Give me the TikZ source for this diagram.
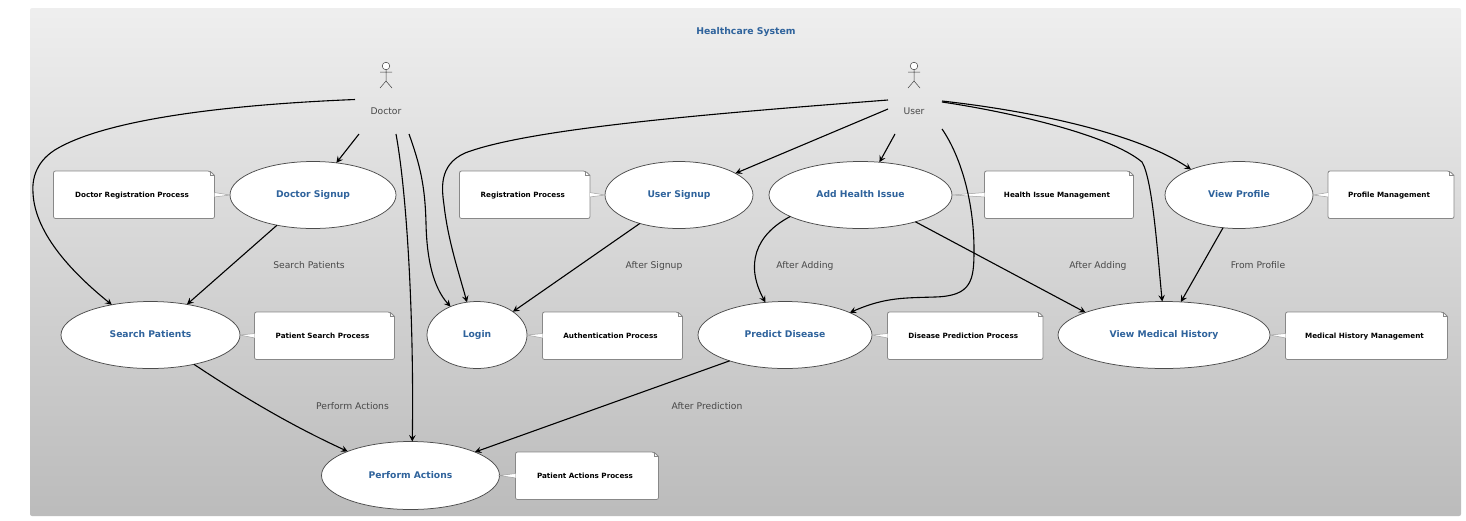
\documentclass[tikz,border=0pt]{standalone}
\usepackage{fontspec}
\setmainfont{DejaVu Sans}
\usetikzlibrary{shapes.geometric,arrows.meta,calc}
\definecolor{ucblue}{HTML}{2F639C}
\definecolor{lblgray}{HTML}{484848}
\definecolor{notegray}{HTML}{888888}
\definecolor{linkgray}{HTML}{A0A0A0}
\tikzset{
  usecase/.style={ellipse,draw=black!70,line width=0.75pt,fill=white,inner sep=0pt,outer sep=0pt,
    text height=6.5pt,text depth=1.5pt,
    font=\fontsize{9.2}{11}\selectfont\bfseries,text=ucblue},
  notetext/.style={inner sep=0pt,outer sep=0pt,text height=6pt,text depth=1pt,
    font=\fontsize{7.2}{9}\selectfont\bfseries,text=black},
  notebody/.style={fill=white,draw=notegray,line width=0.8pt},
  edgelabel/.style={inner sep=0pt,text height=7pt,text depth=0pt,font=\fontsize{9.2}{10}\selectfont,text=lblgray},
  rel/.style={-{Stealth[length=6.5pt,width=6.5pt,inset=2.5pt]},line width=1.1pt,black},
  actorbox/.style={draw=none,inner sep=0pt,outer sep=0pt},
  stick/.style={draw=black!75,line width=0.5pt},
}
% \notebox{name}{x1}{y1}{x2}{y2}{text}
\newcommand{\notebox}[6]{%
  \draw[notebody,rounded corners=2pt] (#2,#5) -- (#2,#3) -- ({#4-4.5},#3) [sharp corners] -- (#4,{#3+4.5}) [rounded corners=2pt] -- (#4,#5) -- cycle;
  \draw[draw=notegray,line width=0.5pt] ({#4-4.5},#3) -- ({#4-4.5},{#3+4.5}) -- (#4,{#3+4.5});
  \node[notetext,minimum width={(#4-#2)*1pt},minimum height={(#5-#3)*1pt}] (#1) at ({(#2+#4)/2},{(#3+#5)/2}) {\hspace*{-4pt}#6};
}
% \notelink{ellipse anchor}{note anchor}
\newcommand{\notelink}[2]{%
  \fill[white] (#1) -- ($(#2)+(0,-2.2)$) -- ($(#2)+(0,2.2)$) -- cycle;
  \draw[linkgray,line width=0.5pt] ($(#2)+(0,-2.2)$) -- (#1) -- ($(#2)+(0,2.2)$);
}
\newcommand{\stickman}[1]{%
  \draw[stick,fill=white] (#1,66) circle (3.8);
  \draw[stick] (#1,69.8) -- (#1,81) (#1-6,72) -- (#1+6,72) (#1-6,88) -- (#1,81) -- (#1+6,88);
}
\begin{document}
\begin{tikzpicture}[x=1pt,y=-1pt]
\useasboundingbox (0,0) rectangle (1466,520);
\shade[top color=black!6.5,bottom color=black!26.5,rounded corners=2pt] (30,8) rectangle (1461,516);
\node[inner sep=0pt,text height=7pt,text depth=0pt,font=\fontsize{9.3}{11}\selectfont\bfseries,text=ucblue] (title) at (746,31) {Healthcare System};

% actors
\stickman{386}
\stickman{914}
\node[actorbox,minimum width=61pt,minimum height=76pt] (doctor) at (385.5,96) {};
\node[actorbox,minimum width=54pt,minimum height=76pt] (user) at (915,96) {};
\node[edgelabel] (doctorlbl) at (386,111) {Doctor};
\node[edgelabel] (userlbl) at (914,111) {User};
\coordinate (d1) at (355,99.5);
\coordinate (d2) at (359,134);
\coordinate (d3) at (396,134);
\coordinate (d4) at (409,134);
\coordinate (u1) at (888,100);
\coordinate (u2) at (888,109);
\coordinate (u3) at (895,134);
\coordinate (u4) at (942,129);
\coordinate (u5) at (942,102);
\coordinate (u6) at (942,101);

% use cases
\node[usecase,minimum width=166pt,minimum height=67pt] (dsignup) at (313,195) {Doctor Signup};
\node[usecase,minimum width=148pt,minimum height=67pt] (usignup) at (679,195) {User Signup};
\node[usecase,minimum width=183pt,minimum height=67pt] (health) at (860.5,195) {Add Health Issue};
\node[usecase,minimum width=148pt,minimum height=67pt] (profile) at (1239,195) {View Profile};
\node[usecase,minimum width=179pt,minimum height=67pt] (search) at (150.5,335) {Search Patients};
\node[usecase,minimum width=100pt,minimum height=67pt] (login) at (477,335) {Login};
\node[usecase,minimum width=174pt,minimum height=67pt] (predict) at (785,335) {Predict Disease};
\node[usecase,minimum width=212pt,minimum height=67pt] (history) at (1164,335) {View Medical History};
\node[usecase,minimum width=178pt,minimum height=68pt] (perform) at (410.5,475.5) {Perform Actions};

% notes
\notebox{ndsignup}{53.5}{171}{214.5}{218.5}{Doctor Registration Process}
\notebox{nusignup}{459.5}{171}{590}{218.5}{Registration Process}
\notebox{nhealth}{984.5}{171}{1133.5}{218.5}{Health Issue Management}
\notebox{nprofile}{1328}{171}{1454}{218.5}{Profile Management}
\notebox{nsearch}{254.5}{312}{394.5}{359.5}{Patient Search Process}
\notebox{nlogin}{542.5}{312}{682.5}{359.5}{Authentication Process}
\notebox{npredict}{887.5}{312}{1043}{359.5}{Disease Prediction Process}
\notebox{nhistory}{1285.5}{312}{1447.5}{359.5}{Medical History Management}
\notebox{nperform}{515.5}{452}{658.5}{499.5}{Patient Actions Process}

\notelink{dsignup.west}{ndsignup.east}
\notelink{usignup.west}{nusignup.east}
\notelink{health.east}{nhealth.west}
\notelink{profile.east}{nprofile.west}
\notelink{search.east}{nsearch.west}
\notelink{login.east}{nlogin.west}
\notelink{predict.east}{npredict.west}
\notelink{history.east}{nhistory.west}
\notelink{perform.east}{nperform.west}

% connectors
\draw[rel] (d1) .. controls (220,105) and (110,120) .. (60,147) .. controls (35,160) and (32,180) .. (33,193) .. controls (35,235) and (75,275) .. (search.142);
\draw[rel] (d2) -- (dsignup.54);
\draw[rel] (d3) .. controls (408,200) and (414,330) .. (perform.87.4);
\draw[rel] (d4) .. controls (420,165) and (425,185) .. (426,223) .. controls (427,275) and (440,295) .. (login.133);
\draw[rel] (u1) .. controls (720,113) and (530,128) .. (465,153) .. controls (438,165) and (442,190) .. (444,205) .. controls (448,240) and (458,270) .. (login.107);
\draw[rel] (u2) -- (usignup.21.25);
\draw[rel] (u3) -- (health.60);
\draw[rel] (u4) .. controls (960,155) and (974,200) .. (974,250) .. controls (974,280) and (972,296) .. (935,297) .. controls (905,298) and (885,297) .. (predict.19.2);
\draw[rel] (u5) .. controls (1010,112) and (1110,135) .. (1142,162) .. controls (1153,180) and (1158,260) .. (history.93.5);
\draw[rel] (u6) .. controls (1040,112) and (1140,135) .. (profile.152.4);
\draw[rel] (dsignup.220.6) -- (search.40.6);
\draw[rel] (search.-34.6) .. controls (240,395) and (290,425) .. (perform.159);
\draw[rel] (usignup.216.6) -- (login.33);
\draw[rel] (health.197) .. controls (755,235) and (745,265) .. (predict.121);
\draw[rel] (health.-26.6) -- (history.164.8);
\draw[rel] (profile.244) -- (history.63.4);
\draw[rel] (predict.205.6) -- (perform.20.6);

% labels
\node[edgelabel] (l1) at (309,265) {Search Patients};
\node[edgelabel] (l2) at (654,265) {After Signup};
\node[edgelabel] (l3) at (805,265) {After Adding};
\node[edgelabel] (l4) at (1098,265) {After Adding};
\node[edgelabel] (l5) at (1258,265) {From Profile};
\node[edgelabel] (l6) at (352.5,405.5) {Perform Actions};
\node[edgelabel] (l7) at (707,405.5) {After Prediction};
\end{tikzpicture}
\end{document}
